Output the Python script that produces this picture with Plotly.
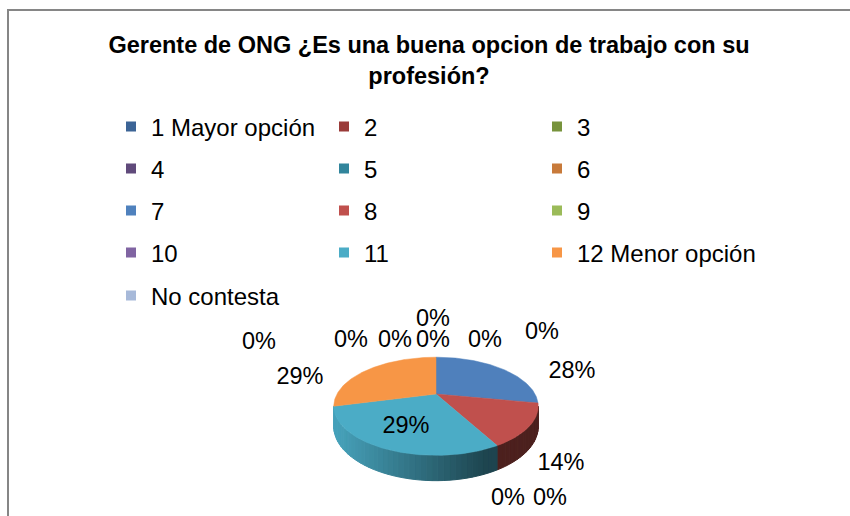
import numpy as np
import plotly.graph_objects as go

# ---------------- data ----------------
categories = ["1 Mayor opción", "2", "3", "4", "5", "6", "7", "8", "9", "10",
              "11", "12 Menor opción", "No contesta"]
values = [28, 14, 0, 0, 0, 0, 0, 0, 0, 0, 29, 29, 0]
title_text = "Gerente de ONG ¿Es una buena opcion de trabajo con su<br>profesión?"

# ---------------- styles ----------------
legend_colors = ["#3c6496", "#9a3b39", "#77933c", "#604a7b", "#31859c", "#c87a3a",
                 "#4f81bd", "#c0504d", "#9bbb59", "#8064a2", "#4bacc6", "#f79646", "#a7b9d9"]
top_colors = ["#4f80bc", "#c0504d", "#77933c", "#604a7b", "#31859c", "#c87a3a",
              "#4f81bd", "#c0504d", "#9bbb59", "#8064a2", "#4bacc6", "#f79646", "#a7b9d9"]
FONT = "Liberation Sans, Arial, sans-serif"
W, H = 850, 516

# pie geometry (pixel space)
CX, CY, RX, RY, K, DEPTH = 436, 394, 99, 46, 0.25, 19
# label positions chosen by Excel's best-fit placement (pixel space)
label_pos = [(572, 372), (561, 464), (508, 499), (550, 499), (259, 343), (351, 341),
             (395, 341), (433, 341), (485, 341), (542, 333), (406, 427), (300, 378),
             (433, 320)]
# legend grid: (items, column, row)
legend_groups = [([0, 1, 2], 0, 0), ([3, 4, 5], 0, 1), ([6, 7, 8], 0, 2),
                 ([9, 10], 0, 3), ([11], 2, 3), ([12], 0, 4)]
legend_x0, legend_pitch = 111, 213
legend_row_y = [127, 169, 211, 253, 296]


def proj(theta_deg, dz=0.0):
    t = np.radians(theta_deg)
    p = 1.0 / (1.0 + K * np.cos(t))
    return CX + RX * np.sin(t) * p, CY - RY * np.cos(t) * p + dz * p


def shade(hex_color, f):
    h = hex_color.lstrip("#")
    r, g, b = (int(h[i:i + 2], 16) for i in (0, 2, 4))
    return "rgb(%d,%d,%d)" % (r * f, g * f, b * f)


fig = go.Figure()

total = float(sum(values))
pcts = [v / total * 100 for v in values]
starts = np.cumsum([0] + pcts[:-1]) * 3.6
ends = np.cumsum(pcts) * 3.6

# silhouette limits of the side wall
lim = np.degrees(np.arccos(-K))
lo_vis, hi_vis = lim, 360 - lim
x_ref, x_left = CX + 0.5 * RX, CX - RX

# side walls
for i, v in enumerate(values):
    if v <= 0:
        continue
    a0, a1 = max(starts[i], lo_vis), min(ends[i], hi_vis)
    if a1 <= a0:
        continue
    edges = np.linspace(a0, a1, max(2, int((a1 - a0) / 2.5) + 1))
    for s0, s1 in zip(edges[:-1], edges[1:]):
        ts = np.linspace(s0, s1, 4)
        xt, yt = proj(ts)
        xb, yb = proj(ts[::-1], DEPTH)
        xm, _ = proj((s0 + s1) / 2)
        f = 0.40 + 0.54 * np.clip((x_ref - xm) / (x_ref - x_left), 0, 1)
        col = shade(top_colors[i], f)
        fig.add_trace(go.Scatter(
            x=np.concatenate([xt, xb, xt[:1]]), y=np.concatenate([yt, yb, yt[:1]]),
            mode="lines", fill="toself", fillcolor=col, line=dict(color=col, width=1),
            hoverinfo="skip", showlegend=False))

# top faces
for i, v in enumerate(values):
    if v <= 0:
        continue
    ts = np.linspace(starts[i], ends[i], max(3, int(ends[i] - starts[i]) + 1))
    xa, ya = proj(ts)
    fig.add_trace(go.Scatter(
        x=np.concatenate([[CX], xa, [CX]]), y=np.concatenate([[CY], ya, [CY]]),
        mode="lines", fill="toself", fillcolor=top_colors[i],
        line=dict(color=top_colors[i], width=0.5),
        name=categories[i], hoverinfo="name", showlegend=False))

# data labels
fig.add_trace(go.Scatter(
    x=[p[0] for p in label_pos], y=[p[1] for p in label_pos],
    text=["%d%%" % round(p) for p in pcts], mode="text",
    textfont=dict(family=FONT, size=23.5, color="black"),
    hoverinfo="skip", showlegend=False))

# legend entries (horizontal legends laid out as a 3-column grid)
legend_layouts = {}
for g, (items, col, row) in enumerate(legend_groups):
    name = "legend" if g == 0 else "legend%d" % (g + 1)
    for i in items:
        fig.add_trace(go.Scatter(
            x=[None], y=[None], mode="markers", name=categories[i], legend=name,
            marker=dict(symbol="square", size=10, color=legend_colors[i], line=dict(width=0)),
            showlegend=True))
    legend_layouts[name] = dict(
        orientation="h", x=(legend_x0 + col * legend_pitch) / W, xanchor="left",
        y=1 - legend_row_y[row] / H, yanchor="middle",
        font=dict(family=FONT, size=24, color="black"),
        entrywidth=(legend_pitch - 45) if len(items) > 1 else 0, entrywidthmode="pixels",
        itemwidth=30, bgcolor="rgba(0,0,0,0)", borderwidth=0, traceorder="normal")

fig.update_layout(
    width=W, height=H, margin=dict(l=0, r=0, t=0, b=0),
    paper_bgcolor="white", plot_bgcolor="white",
    xaxis=dict(range=[0, W], visible=False, fixedrange=True),
    yaxis=dict(range=[H, 0], visible=False, fixedrange=True),
    title=dict(text="<b>" + title_text + "</b>", x=429 / W, xanchor="center",
               y=1 - 53 / H, yanchor="top",
               font=dict(family=FONT, size=23.5, color="black")),
    shapes=[dict(type="rect", xref="paper", yref="paper", x0=8 / W, y0=1 - 10 / H,
                 x1=1.05, y1=-0.05, line=dict(color="#868686", width=2))],
    **legend_layouts,
)

fig.write_html("out.html", config={"displayModeBar": False},
               post_script="document.body.style.margin='0';")
